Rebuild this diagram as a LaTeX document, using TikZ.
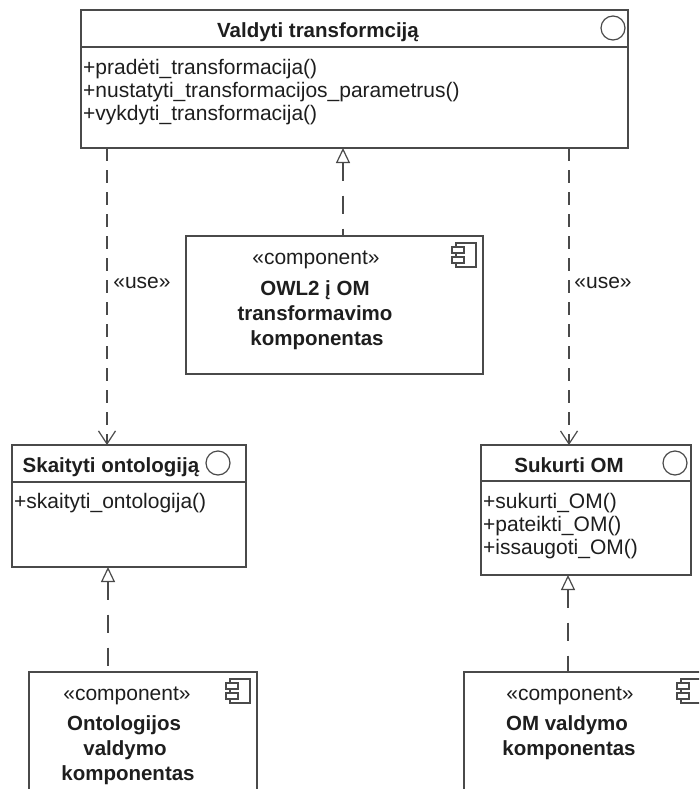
\documentclass[tikz,border=0pt]{standalone}
\usepackage{fontspec}
\setmainfont{Liberation Sans}
\usetikzlibrary{arrows.meta}
\definecolor{umlline}{HTML}{4A4A4A}
\definecolor{umltext}{HTML}{1E1E1E}
\tikzset{
  umlbox/.style={draw=umlline, line width=1.3pt, fill=white, rectangle,
    inner sep=0pt, outer sep=0pt, anchor=north west},
  sepline/.style={draw=umlline, line width=1.3pt},
  markcircle/.style={draw=umlline, line width=1.2pt, fill=white},
  optext/.style={font=\fontsize{21}{23}\selectfont, text=umltext, inner sep=0pt,
    anchor=mid west, yshift=-5.5pt},
  titletext/.style={font=\fontsize{20.5}{25}\selectfont\bfseries, text=umltext, inner sep=0pt,
    anchor=mid, yshift=-5.5pt},
  stereo/.style={font=\fontsize{21}{25}\selectfont, text=umltext, inner sep=0pt,
    anchor=mid, yshift=-5.5pt},
  usedep/.style={draw=umlline, line width=1.2pt, dash pattern=on 13pt off 9pt,
    -{Straight Barb[length=13pt,width=17pt]}},
  realize/.style={draw=umlline, line width=1.2pt, dash pattern=on 18pt off 15pt,
    {Triangle[length=15pt,width=14pt,fill=white]}-},
  compicon/.pic={
    \draw[draw=umlline, line width=1.1pt, fill=white] (-27,7) rectangle (-7,31);
    \draw[draw=umlline, line width=1.1pt, fill=white] (-31,11) rectangle (-19,17);
    \draw[draw=umlline, line width=1.1pt, fill=white] (-31,21) rectangle (-19,27);
  }
}
\begin{document}
\begin{tikzpicture}[x=1pt, y=-1pt]
  \useasboundingbox (0,0) rectangle (699,789);
  \clip (0,0) rectangle (699,789);
  \fill[white] (0,0) rectangle (699,789);

  % interface: Valdyti transformciją
  \node[umlbox, minimum width=547pt, minimum height=138pt] (valdyti) at (81,10) {};
  \draw[sepline] ([yshift=-37pt]valdyti.north west) -- ([yshift=-37pt]valdyti.north east);
  \draw[markcircle] ([xshift=-15pt,yshift=-18pt]valdyti.north east) circle[radius=12pt];
  \node[titletext] (valdytiT) at (318,29) {Valdyti transformciją};
  \node[optext] (valdytiO1) at (83,66) {+pradėti\_transformacija()};
  \node[optext] (valdytiO2) at (83,89) {+nustatyti\_transformacijos\_parametrus()};
  \node[optext] (valdytiO3) at (83,112) {+vykdyti\_transformacija()};

  % interface: Skaityti ontologiją
  \node[umlbox, minimum width=234pt, minimum height=122pt] (skaityti) at (12,445) {};
  \draw[sepline] ([yshift=-37pt]skaityti.north west) -- ([yshift=-37pt]skaityti.north east);
  \draw[markcircle] ([xshift=-28pt,yshift=-18pt]skaityti.north east) circle[radius=12pt];
  \node[titletext] (skaitytiT) at (111,464) {Skaityti ontologiją};
  \node[optext] (skaitytiO1) at (14,500) {+skaityti\_ontologija()};

  % interface: Sukurti OM
  \node[umlbox, minimum width=210pt, minimum height=130pt] (sukurti) at (481,445) {};
  \draw[sepline] ([yshift=-36pt]sukurti.north west) -- ([yshift=-36pt]sukurti.north east);
  \draw[markcircle] ([xshift=-16pt,yshift=-18pt]sukurti.north east) circle[radius=12pt];
  \node[titletext] (sukurtiT) at (569,464) {Sukurti OM};
  \node[optext] (sukurtiO1) at (483,500) {+sukurti\_OM()};
  \node[optext] (sukurtiO2) at (483,523) {+pateikti\_OM()};
  \node[optext] (sukurtiO3) at (483,546) {+issaugoti\_OM()};

  % component: OWL2 į OM transformavimo komponentas
  \node[umlbox, minimum width=297pt, minimum height=138pt] (owl) at (186,236) {};
  \pic at (owl.north east) {compicon};
  \node[stereo] (owlS) at (316,256) {«component»};
  \node[titletext] (owlN1) at (315,287) {OWL2 į OM};
  \node[titletext] (owlN2) at (315,312) {transformavimo};
  \node[titletext] (owlN3) at (317,337) {komponentas};

  % component: Ontologijos valdymo komponentas
  \node[umlbox, minimum width=228pt, minimum height=140pt] (onto) at (29,672) {};
  \pic at (onto.north east) {compicon};
  \node[stereo] (ontoS) at (127,692) {«component»};
  \node[titletext] (ontoN1) at (124,722) {Ontologijos};
  \node[titletext] (ontoN2) at (125,747) {valdymo};
  \node[titletext] (ontoN3) at (128,772) {komponentas};

  % component: OM valdymo komponentas
  \node[umlbox, minimum width=244pt, minimum height=140pt] (om) at (464,672) {};
  \pic at (om.north east) {compicon};
  \node[stereo] (omS) at (570,692) {«component»};
  \node[titletext] (omN1) at (567,722) {OM valdymo};
  \node[titletext] (omN2) at (569,747) {komponentas};

  % connector columns
  \coordinate (xUseL) at (107,0);
  \coordinate (xUseR) at (569,0);
  \coordinate (xOwl) at (343,0);
  \coordinate (xOnto) at (108,0);
  \coordinate (xOm) at (568,0);

  % usage dependencies
  \draw[usedep] (valdyti.south -| xUseL) --
    node[stereo, pos=0.444, xshift=35pt] (useL) {«use»} (skaityti.north -| xUseL);
  \draw[usedep] (valdyti.south -| xUseR) --
    node[stereo, pos=0.444, xshift=34pt] (useR) {«use»} (sukurti.north -| xUseR);

  % realizations
  \draw[realize] (valdyti.south -| xOwl) -- (owl.north -| xOwl);
  \draw[realize] (skaityti.south -| xOnto) -- (onto.north -| xOnto);
  \draw[realize] (sukurti.south -| xOm) -- (om.north -| xOm);
\end{tikzpicture}
\end{document}
